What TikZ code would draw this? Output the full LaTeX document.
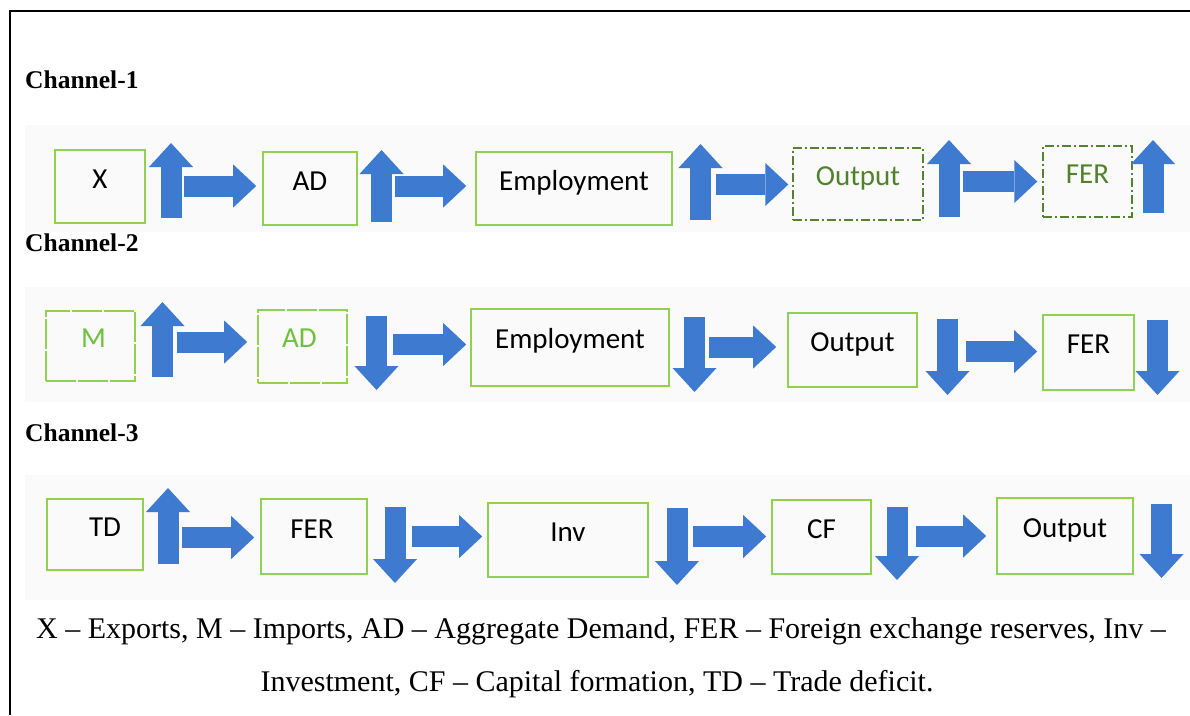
\documentclass[tikz,border=0pt]{standalone}
\usepackage{fontspec}
\setmainfont{Liberation Serif}
\newfontfamily\boxfont{Carlito}
\usetikzlibrary{arrows.meta}

\definecolor{lgreen}{RGB}{146,208,80}
\definecolor{dgreen}{RGB}{84,130,53}
\definecolor{gtext}{RGB}{112,192,64}
\definecolor{dgtext}{RGB}{80,130,45}
\definecolor{ablue}{RGB}{62,122,208}
\definecolor{band}{RGB}{250,250,250}

\tikzset{
  box/.style={draw=lgreen, line width=1.6pt, inner sep=0pt},
  dbox/.style={draw=dgreen, line width=1.4pt, dash pattern=on 9pt off 3pt on 2pt off 3pt, inner sep=0pt},
  fbox/.style={draw=lgreen, line width=1.6pt, dash pattern=on 30pt off 2pt, inner sep=0pt},
  lbl/.style={font=\boxfont\fontsize{29}{30}\selectfont, anchor=base, inner sep=0pt},
  chan/.style={font=\bfseries\fontsize{25.5}{27}\selectfont, anchor=base west, inner sep=0pt},
  keytext/.style={font=\fontsize{30}{32}\selectfont, anchor=base, inner sep=0pt},
  flow/.style={draw=ablue, line width=21pt,
    -{Triangle[length=23pt,width=43pt,line width=0pt]}},
  ind/.style={draw=ablue, line width=21pt,
    -{Triangle[length=24pt,width=44pt,line width=0pt]}},
}

\begin{document}
\begin{tikzpicture}[x=1pt, y=-1pt]
\useasboundingbox (0,0) rectangle (1190,715);

% soft background bands behind the three chains
\fill[band] (25,125) rectangle (1190,232);
\fill[band] (25,287) rectangle (1190,402);
\fill[band] (25,475) rectangle (1190,600);

% frame
\draw[line width=2.5pt] (1190,11) -- (10,11) -- (10,715);

% ---------------- Channel 1 ----------------
\node[chan] (ch1) at (25,88) {Channel-1};

\node[box, minimum width=90pt, minimum height=73pt] (X) at (100,186.5) {};
\node[lbl] (X-t) at ([yshift=-1.5pt]X.center) {X};
\node[box, minimum width=94pt, minimum height=73pt] (AD1) at (310,188.5) {};
\node[lbl] (AD1-t) at ([yshift=-1.5pt]AD1.center) {AD};
\node[box, minimum width=196pt, minimum height=73pt] (Emp1) at (574,188.5) {};
\node[lbl] (Emp1-t) at ([yshift=-1.5pt]Emp1.center) {Employment};
\node[dbox, minimum width=130pt, minimum height=72pt] (Out1) at (858,184) {};
\node[lbl, text=dgtext] (Out1-t) at ([yshift=-1.5pt]Out1.center) {Output};
\node[dbox, minimum width=89pt, minimum height=71pt] (FER1) at (1087.5,181.5) {};
\node[lbl, text=dgtext] (FER1-t) at ([yshift=-1.5pt]FER1.center) {FER};

\draw[ind] (171,218) -- (171,143);
\draw[ind] (381.5,222) -- (381.5,150);
\draw[ind] (700.5,220) -- (700.5,144);
\draw[ind] (949,217) -- (949,140);
\draw[ind] (1153,213) -- (1153,140);

\coordinate (a11) at (184,186);
\coordinate (a12) at (395,186);
\coordinate (a13) at (716,184.5);
\coordinate (a14) at (963,181.5);
\draw[flow] (a11) -- ([xshift=-6pt]a11 -| AD1.west);
\draw[flow] (a12) -- ([xshift=-9pt]a12 -| Emp1.west);
\draw[flow] (a13) -- ([xshift=-4pt]a13 -| Out1.west);
\draw[flow] (a14) -- ([xshift=-5pt]a14 -| FER1.west);

% ---------------- Channel 2 ----------------
\node[chan] (ch2) at (25,251) {Channel-2};

\node[fbox, minimum width=89pt, minimum height=70pt] (M) at (90.5,346) {};
\node[lbl, text=gtext] (M-t) at ([xshift=3pt,yshift=-1pt]M.center) {M};
\node[fbox, minimum width=89pt, minimum height=73pt] (AD2) at (302.5,346.5) {};
\node[lbl, text=gtext] (AD2-t) at ([xshift=-3pt,yshift=-1pt]AD2.center) {AD};
\node[box, minimum width=198pt, minimum height=77pt] (Emp2) at (570,347.5) {};
\node[lbl] (Emp2-t) at ([yshift=-1pt]Emp2.center) {Employment};
\node[box, minimum width=129pt, minimum height=74pt] (Out2) at (852.5,350) {};
\node[lbl] (Out2-t) at ([yshift=-1pt]Out2.center) {Output};
\node[box, minimum width=91pt, minimum height=75pt] (FER2) at (1088.5,352.5) {};
\node[lbl] (FER2-t) at ([yshift=-1pt]FER2.center) {FER};

\draw[ind] (162.5,377) -- (162.5,302);
\draw[ind] (376.5,316) -- (376.5,390);
\draw[ind] (694.5,317) -- (694.5,392);
\draw[ind] (947.5,319) -- (947.5,395);
\draw[ind] (1157.5,320) -- (1157.5,395);

\coordinate (a21) at (177,342);
\coordinate (a22) at (393,344.5);
\coordinate (a23) at (709,347);
\coordinate (a24) at (966,351.5);
\draw[flow] (a21) -- ([xshift=-10pt]a21 -| AD2.west);
\draw[flow] (a22) -- ([xshift=-4pt]a22 -| Emp2.west);
\draw[flow] (a23) -- ([xshift=-11pt]a23 -| Out2.west);
\draw[flow] (a24) -- ([xshift=-5pt]a24 -| FER2.west);

% ---------------- Channel 3 ----------------
\node[chan] (ch3) at (25,441) {Channel-3};

\node[box, minimum width=96pt, minimum height=71pt] (TD) at (95,534.5) {};
\node[lbl] (TD-t) at ([xshift=10pt,yshift=-1.5pt]TD.center) {TD};
\node[box, minimum width=106pt, minimum height=75pt] (FER3) at (314,536.5) {};
\node[lbl] (FER3-t) at ([xshift=-2pt,yshift=-1.5pt]FER3.center) {FER};
\node[box, minimum width=160pt, minimum height=74pt] (Inv) at (568,540) {};
\node[lbl] (Inv-t) at ([yshift=-1.5pt]Inv.center) {Inv};
\node[box, minimum width=99pt, minimum height=74pt] (CF) at (821.5,537) {};
\node[lbl] (CF-t) at ([yshift=-1pt]CF.center) {CF};
\node[box, minimum width=136pt, minimum height=76pt] (Out3) at (1065,536) {};
\node[lbl] (Out3-t) at ([yshift=-1.5pt]Out3.center) {Output};

\draw[ind] (168,564) -- (168,488);
\draw[ind] (395,507) -- (395,583);
\draw[ind] (677,508) -- (677,585);
\draw[ind] (897,507) -- (897,580);
\draw[ind] (1161.5,504) -- (1161.5,578);

\coordinate (a31) at (182,537.5);
\coordinate (a32) at (412,536.5);
\coordinate (a33) at (693,536.5);
\coordinate (a34) at (916,536);
\draw[flow] (a31) -- ([xshift=-6pt]a31 -| FER3.west);
\draw[flow] (a32) -- ([xshift=-5pt]a32 -| Inv.west);
\draw[flow] (a33) -- ([xshift=-5pt]a33 -| CF.west);
\draw[flow] (a34) -- ([xshift=-10pt]a34 -| Out3.west);

% ---------------- key ----------------
\node[keytext] (key1) at (601,638) {X – Exports, M – Imports, AD – Aggregate Demand, FER – Foreign exchange reserves, Inv –};
\node[keytext] (key2) at (597,691) {Investment, CF – Capital formation, TD – Trade deficit.};
\end{tikzpicture}
\end{document}
